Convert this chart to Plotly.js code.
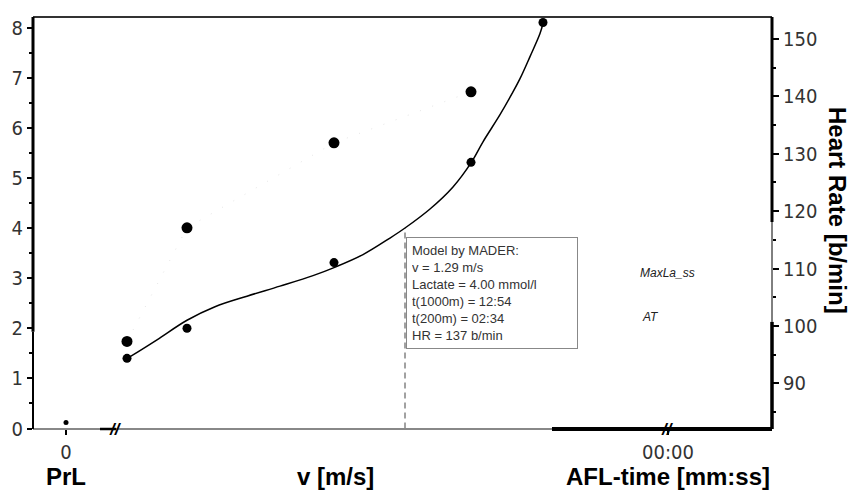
<!DOCTYPE html>
<html>
<head>
<meta charset="utf-8">
<script src="https://cdn.plot.ly/plotly-3.0.1.min.js"></script>
<style>html,body{margin:0;padding:0;background:#fff;}#chart{width:851px;height:495px;}</style>
</head>
<body>
<div id="chart"></div>
<script>
// ---- data ----
const stageV      = [1.012, 1.072, 1.219, 1.356, 1.428];   // v [m/s] of each step
const stageLactate = [1.40, 2.00, 3.31, 5.31, 8.10];       // mmol/l
const hrV         = [1.012, 1.072, 1.219, 1.356];
const heartRate   = [97.3, 117.1, 131.9, 140.8];           // b/min
const prlV = [0.951];
const prlLactate = [0.12];
const curveV  = [1.012, 1.018, 1.042, 1.072, 1.100, 1.132, 1.165, 1.198, 1.219, 1.248, 1.275, 1.290, 1.315, 1.338, 1.356, 1.368, 1.385, 1.397, 1.405, 1.415, 1.425, 1.428];
const curveLa = [1.40, 1.47, 1.77, 2.16, 2.43, 2.64, 2.84, 3.05, 3.21, 3.47, 3.80, 4.00, 4.38, 4.82, 5.30, 5.72, 6.26, 6.68, 6.98, 7.42, 7.88, 8.08];
const thresholdV = [1.29, 1.29];
const thresholdLa = [0, 4.00];
const xTickVals = [0.951, 1.553];
const xTickText = ['0', '00:00'];
const breakVals = [1.000, 1.552];
const boxLines = ['Model by MADER:', 'v = 1.29 m/s', 'Lactate = 4.00 mmol/l', 't(1000m) = 12:54', 't(200m) = 02:34', 'HR = 137 b/min'];
const xTitles = ['PrL', 'v [m/s]', 'AFL-time [mm:ss]'];

const xRange = [0.918, 1.657];
const yRange = [-0.01, 8.21];
const y2Range = [82.04, 153.83];

const narrow = '"Liberation Sans Narrow", "Arial Narrow", "DejaVu Sans Condensed", sans-serif';
const sans = '"Liberation Sans", Arial, sans-serif';

const traces = [
  {x: thresholdV, y: thresholdLa, mode: 'lines', line: {color: '#444', width: 1, dash: '6px,4px'}, hoverinfo: 'skip'},
  {x: hrV, y: heartRate, yaxis: 'y2', mode: 'lines', line: {color: '#e6e6e6', width: 1, dash: '1px,12px'}, hoverinfo: 'skip'},
  {x: curveV, y: curveLa, mode: 'lines', line: {color: '#000', width: 1.5, shape: 'spline', smoothing: 1}},
  {x: stageV, y: stageLactate, mode: 'markers', marker: {color: '#000', size: 9}, cliponaxis: false},
  {x: hrV, y: heartRate, yaxis: 'y2', mode: 'markers', marker: {color: '#000', size: 11}, cliponaxis: false},
  {x: prlV, y: prlLactate, mode: 'markers', marker: {color: '#000', size: 5}, cliponaxis: false}
];

const titleFont = {family: sans, size: 24, color: '#000'};
const titleY = -0.116;
const annotations = [];
annotations.push({x: xTickVals[0], xref: 'x', y: titleY, yref: 'paper', xanchor: 'center', yanchor: 'middle', text: '<b>' + xTitles[0] + '</b>', showarrow: false, font: titleFont});
annotations.push({x: 0.4087, xref: 'paper', y: titleY, yref: 'paper', xanchor: 'center', yanchor: 'middle', text: '<b>' + xTitles[1] + '</b>', showarrow: false, font: titleFont});
annotations.push({x: xTickVals[1], xref: 'x', y: titleY, yref: 'paper', xanchor: 'center', yanchor: 'middle', text: '<b>' + xTitles[2] + '</b>', showarrow: false, font: titleFont});
annotations.push({x: 1.088, xref: 'paper', y: 0.5316, yref: 'paper', xanchor: 'center', yanchor: 'middle', text: '<b>Heart Rate [b/min]</b>', textangle: 90, showarrow: false, font: titleFont});
annotations.push({x: 1.291, xref: 'x', y: 3.82, yref: 'y', xanchor: 'left', yanchor: 'top', align: 'left',
  text: boxLines.join('<br>'), showarrow: false, bgcolor: '#fff', bordercolor: '#888', borderwidth: 1, borderpad: 5,
  width: 160, font: {family: sans, size: 13, color: '#333'}});
annotations.push({x: 0.859, xref: 'paper', y: 0.379, yref: 'paper', xanchor: 'center', yanchor: 'middle', text: '<i>MaxLa_ss</i>', showarrow: false, font: {family: sans, size: 12, color: '#222'}});
annotations.push({x: 0.835, xref: 'paper', y: 0.272, yref: 'paper', xanchor: 'center', yanchor: 'middle', text: '<i>AT</i>', showarrow: false, font: {family: sans, size: 12, color: '#222'}});
breakVals.forEach(b => annotations.push({x: b, xref: 'x', y: 0, yref: 'paper', xanchor: 'center', yanchor: 'middle', text: '<b><i>//</i></b>', showarrow: false, font: {family: sans, size: 17, color: '#000'}}));

const shapes = [
  // top frame
  {type: 'line', xref: 'paper', yref: 'paper', x0: 0, x1: 1, y0: 1, y1: 1, line: {color: '#333', width: 2}},
  // bottom axis (thin gray)
  {type: 'line', xref: 'paper', yref: 'paper', x0: 0, x1: 1, y0: 0, y1: 0, line: {color: '#888', width: 2}},
  // bottom short thick piece near first break
  {type: 'line', xref: 'x', yref: 'paper', x0: 0.985, x1: 1.001, y0: 0, y1: 0, line: {color: '#000', width: 2.5}},
  // bottom thick AFL part
  {type: 'line', xref: 'x', yref: 'paper', x0: 1.437, x1: xRange[1], y0: 0, y1: 0, line: {color: '#000', width: 4}},
  // left axis
  {type: 'line', xref: 'paper', yref: 'y', x0: 0, x1: 0, y0: 1.93, y1: yRange[1], line: {color: '#000', width: 3}},
  {type: 'line', xref: 'paper', yref: 'y', x0: 0, x1: 0, y0: yRange[0], y1: 1.93, line: {color: '#000', width: 2}},
  // right axis
  {type: 'line', xref: 'paper', yref: 'y2', x0: 1, x1: 1, y0: 118.1, y1: y2Range[1], line: {color: '#000', width: 3}},
  {type: 'line', xref: 'paper', yref: 'y2', x0: 1, x1: 1, y0: 100.7, y1: 118.1, line: {color: '#000', width: 1}},
  {type: 'line', xref: 'paper', yref: 'y2', x0: 1, x1: 1, y0: y2Range[0], y1: 100.7, line: {color: '#000', width: 3.5}}
];

const tickFont = {family: narrow, size: 20, color: '#333'};
const layout = {
  width: 851, height: 495,
  margin: {l: 33, r: 79, t: 17, b: 66, pad: 0},
  paper_bgcolor: '#fff', plot_bgcolor: '#fff',
  showlegend: false,
  xaxis: {range: xRange, showgrid: false, zeroline: false, showline: false,
    tickmode: 'array', tickvals: xTickVals, ticktext: xTickText,
    ticks: 'outside', ticklen: 5, tickwidth: 1.5, tickcolor: '#000',
    tickfont: tickFont},
  yaxis: {range: yRange, showgrid: false, zeroline: false, showline: false,
    tickmode: 'linear', tick0: 0, dtick: 1,
    ticks: 'outside', ticklen: 5, tickwidth: 2, tickcolor: '#000',
    minor: {dtick: 0.5, tick0: 0, ticks: 'outside', ticklen: 3, tickwidth: 2, tickcolor: '#000', showgrid: false},
    tickfont: tickFont},
  yaxis2: {range: y2Range, overlaying: 'y', side: 'right', showgrid: false, zeroline: false, showline: false,
    tickmode: 'linear', tick0: 90, dtick: 10,
    ticks: 'outside', ticklen: 6, tickwidth: 2, tickcolor: '#000',
    minor: {dtick: 5, tick0: 85, ticks: 'outside', ticklen: 3, tickwidth: 2, tickcolor: '#000', showgrid: false},
    tickfont: tickFont},
  annotations: annotations,
  shapes: shapes
};

Plotly.newPlot('chart', traces, layout, {staticPlot: true, displayModeBar: false});
</script>
</body>
</html>
